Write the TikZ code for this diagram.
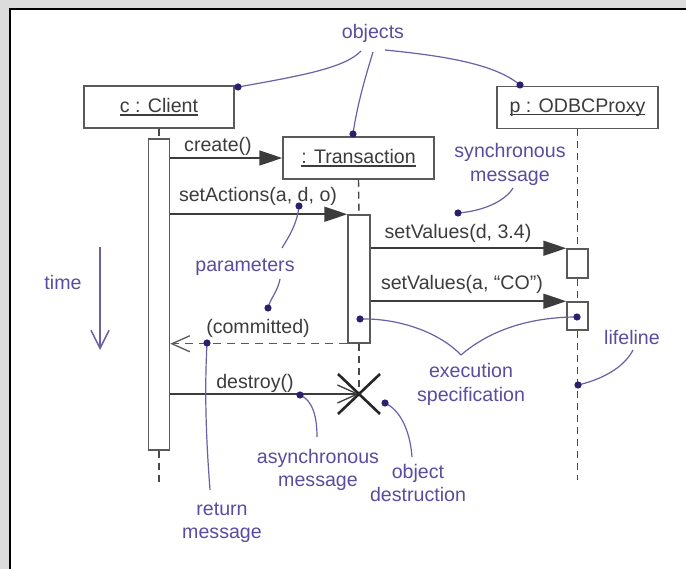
\documentclass[tikz,border=0pt]{standalone}
\usepackage{fontspec}
\setmainfont{Liberation Sans}
\usetikzlibrary{arrows.meta,calc}
\definecolor{notecol}{HTML}{5A4C9E}
\definecolor{notelinecol}{HTML}{6A60A4}
\definecolor{dotcol}{HTML}{2B1F70}
\definecolor{linecol}{HTML}{3C3C3C}
\definecolor{boxcol}{HTML}{5A5A5A}
\definecolor{pagegray}{HTML}{DCDCDC}
% underlined object name, rule at a fixed depth
\newcommand\objul[1]{\setbox0=\hbox{#1}\leavevmode\rlap{\rule[-3pt]{\wd0}{1.1pt}}\box0}
\begin{document}
\begin{tikzpicture}[x=1pt,y=-1pt,
  font=\fontsize{19.6}{23.5}\selectfont,
  objbox/.style={draw=boxcol,line width=1.5pt,fill=white,minimum width=#1,minimum height=42pt,inner sep=0pt,text=linecol},
  actbar/.style={draw=boxcol,line width=1.5pt,fill=white,inner sep=0pt},
  lifeline/.style={draw=boxcol!80!black,line width=1.4pt,dash pattern=on 7pt off 5pt},
  msg/.style={draw=linecol,line width=1.6pt,-{Triangle[length=23pt,width=15pt]}},
  asyncmsg/.style={draw=linecol,line width=1.3pt,-{Straight Barb[length=20pt,width=18pt,line width=1.3pt]}},
  retmsg/.style={draw=boxcol,line width=1.5pt,dash pattern=on 8pt off 6pt,-{Straight Barb[length=18pt,width=16pt,line width=1.3pt,sep=0pt]}},
  msglabel/.style={anchor=base,inner sep=0pt,text=linecol},
  notelabel/.style={anchor=base,inner sep=0pt,text=notecol,align=center},
  noteline/.style={draw=notelinecol,line width=1.2pt},
  notedot/.style={fill=dotcol}
]
\useasboundingbox (0,0) rectangle (686,569);
% page frame
\fill[pagegray] (0,0) rectangle (686,569);
\fill[white] (10,9) rectangle (686,569);
\draw[line width=2.5pt,black] (10,569) -- (10,9) -- (686,9);

% objects
\node[objbox=150pt] (client) at (159,107) {\objul{c : Client}};
\node[objbox=161pt] (proxy) at (577.5,107.5) {\objul{p : ODBCProxy}};
\node[objbox=151pt] (trans) at (358.5,158) {\objul{: Transaction}};

% activation bars
\node[actbar,minimum width=21pt,minimum height=311pt] (cbar) at (159,294.5) {};
\node[actbar,minimum width=22pt,minimum height=128pt] (tbar) at (359,279) {};
\node[actbar,minimum width=21pt,minimum height=29pt] (pbarA) at (577.5,263.5) {};
\node[actbar,minimum width=21pt,minimum height=28pt] (pbarB) at (577.5,316) {};

% lifelines
\coordinate (xmark) at (359,394);
\coordinate (cend) at (159,484);
\coordinate (pend) at (577.5,480);
\draw[lifeline] (client.south) -- (cbar.north);
\draw[lifeline] (cbar.south) -- (cend);
\draw[lifeline] (trans.south) -- (tbar.north);
\draw[lifeline] (tbar.south) -- (xmark);
\draw[lifeline] (proxy.south) -- (pbarA.north);
\draw[lifeline] (pbarA.south) -- (pbarB.north);
\draw[lifeline] (pbarB.south) -- (pend);

% messages
\draw[msg] (cbar.east |- trans.west) -- (trans.west);
\node[msglabel] (lcreate) at (218,152) {create()};
\draw[msg] (cbar.east |- tbar.north) -- (tbar.north west);
\node[msglabel] (lsetact) at (258,201.5) {setActions(a, d, o)};
\draw[msg] (tbar.east |- pbarA.north) -- (pbarA.north west);
\node[msglabel] (lsetvA) at (458,238.5) {setValues(d, 3.4)};
\draw[msg] (tbar.east |- pbarB.north) -- (pbarB.north west);
\node[msglabel] (lsetvB) at (462,289.5) {setValues(a, “CO”)};
\draw[retmsg] (tbar.south west) -- (cbar.east |- tbar.south);
\node[msglabel] (lcommit) at (258,333.5) {(committed)};
\draw[asyncmsg] (cbar.east |- xmark) -- (xmark);
\node[msglabel] (ldestroy) at (255,388.5) {destroy()};

% object destruction mark
\draw[line width=2.6pt,black!85] ($(xmark)+(-21,-20)$) -- ($(xmark)+(21,20)$);
\draw[line width=2.6pt,black!85] ($(xmark)+(21,-20)$) -- ($(xmark)+(-21,20)$);

% time axis
\node[notelabel] (ltime) at (63,289.5) {time};
\coordinate (ttop) at (100,247);
\coordinate (tbot) at (100,350);
\draw[draw=notelinecol,line width=1.5pt,-{Straight Barb[length=18pt,width=18pt,line width=1.5pt]}] (ttop) -- (tbot);

% annotation labels (base anchor = last line's baseline)
\node[notelabel] (lobjects) at (373,38.5) {objects};
\node[notelabel] (lsync) at (510,181.5) {synchronous\\message};
\node[notelabel] (lparams) at (245,271.5) {parameters};
\node[notelabel] (lexec) at (471,401.5) {execution\\specification};
\node[notelabel] (llife) at (632,344.5) {lifeline};
\node[notelabel] (lasync) at (318,486.5) {asynchronous\\message};
\node[notelabel] (ldestr) at (418,501.5) {object\\destruction};
\node[notelabel] (lret) at (222,538.5) {return\\message};

% annotation dots
\coordinate (dclient) at (238,87);
\coordinate (dtrans) at (353,134);
\coordinate (dproxy) at (520,85);
\coordinate (dsync) at (458,213);
\coordinate (dparamA) at (299,206);
\coordinate (dparamB) at (268,308);
\coordinate (dexecA) at (360,319);
\coordinate (dexecB) at (577,317);
\coordinate (dlife) at (578,385);
\coordinate (ddestr) at (385,403);
\coordinate (dasync) at (300,395);
\coordinate (dret) at (207,343);

% annotation connectors
\coordinate (oa) at (361,51);
\coordinate (ob) at (373,52);
\coordinate (oc) at (385,50);
\draw[noteline] (dclient) .. controls (300,76) and (345,68) .. (oa);
\draw[noteline] (dtrans) .. controls (357,105) and (366,75) .. (ob);
\draw[noteline] (dproxy) .. controls (495,64) and (445,56) .. (oc);
\coordinate (sa) at (513,188);
\draw[noteline] (dsync) .. controls (485,211) and (506,200) .. (sa);
\coordinate (pa) at (282,248);
\coordinate (pb) at (280,279);
\draw[noteline] (dparamA) .. controls (297,225) and (288,238) .. (pa);
\draw[noteline] (pb) .. controls (278,291) and (270,299) .. (dparamB);
\coordinate (apex) at (461,355);
\draw[noteline] (dexecA) .. controls (400,318) and (440,333) .. (apex);
\draw[noteline] (apex) .. controls (490,330) and (530,317) .. (dexecB);
\coordinate (la) at (633,350);
\draw[noteline] (dlife) .. controls (608,378) and (626,364) .. (la);
\coordinate (da) at (412,457);
\draw[noteline] (ddestr) .. controls (400,410) and (410,430) .. (da);
\coordinate (aa) at (317,437);
\draw[noteline] (dasync) .. controls (312,400) and (317,415) .. (aa);
\coordinate (ra) at (210,490);
\draw[noteline] (dret) .. controls (204,400) and (207,450) .. (ra);

\foreach \d in {dclient,dtrans,dproxy,dsync,dparamA,dparamB,dexecA,dexecB,dlife,ddestr,dasync,dret}
  \fill[notedot] (\d) circle (3.6pt);
\end{tikzpicture}
\end{document}
